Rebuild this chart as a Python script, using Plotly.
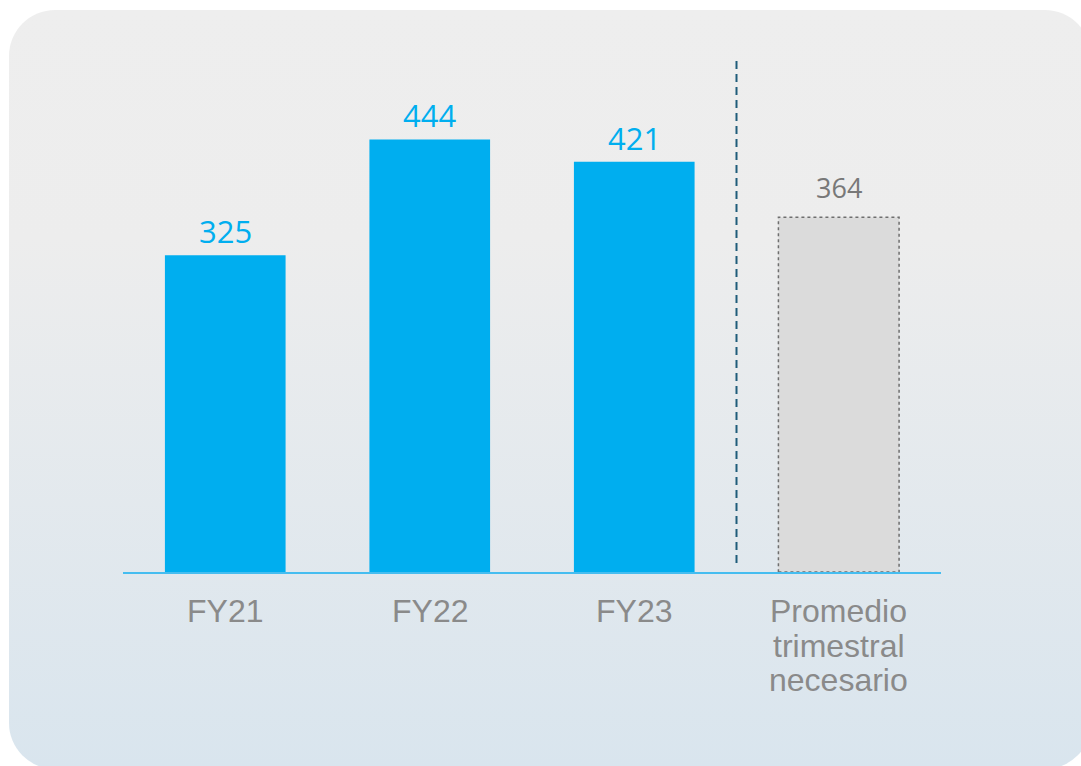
import base64
import plotly.graph_objects as go

# ---- data -------------------------------------------------------------
categories = ["FY21", "FY22", "FY23", "Promedio trimestral necesario"]
category_lines = [["FY21"], ["FY22"], ["FY23"], ["Promedio", "trimestral", "necesario"]]
values = [325, 444, 421, 364]
value_labels = ["325", "444", "421", "364"]
is_target = [False, False, False, True]

# ---- geometry / style -------------------------------------------------
W, H = 1081, 766
M = dict(l=123, r=140, t=40, b=194)
PLOT_W = W - M["l"] - M["r"]
PLOT_H = H - M["t"] - M["b"]
BARGAP = 0.41
Y_MAX = 546

BLUE = "#00AEEF"
TARGET_FILL = "#DBDBDB"
TARGET_EDGE = "#6E6E6E"
AXIS_BLUE = "#45BDF0"
SEP_COLOR = "#1F5C7A"
CAT_GREY = "#8A8A8A"
VAL_GREY = "#787878"

x = list(range(len(categories)))
colors = [TARGET_FILL if t else BLUE for t in is_target]


def px_to_paper_x(px):
    return (px - M["l"]) / PLOT_W


def px_to_paper_y(py):
    return (H - M["b"] - py) / PLOT_H


# rounded card with a soft grey-to-blue vertical gradient
card = dict(x0=9, y0=10, x1=1091, y1=769, r=46)
cw, ch = card["x1"] - card["x0"], card["y1"] - card["y0"]
svg = (
    f'<svg xmlns="http://www.w3.org/2000/svg" width="{cw}" height="{ch}" '
    f'viewBox="0 0 {cw} {ch}">'
    '<defs><linearGradient id="g" x1="0" y1="0" x2="0" y2="1">'
    '<stop offset="0" stop-color="#EEEEEE"/>'
    '<stop offset="0.3" stop-color="#EDEDED"/>'
    '<stop offset="1" stop-color="#D9E5EE"/>'
    '</linearGradient></defs>'
    f'<rect x="0" y="0" width="{cw}" height="{ch}" rx="{card["r"]}" ry="{card["r"]}" fill="url(#g)"/>'
    '</svg>'
)
svg_uri = "data:image/svg+xml;base64," + base64.b64encode(svg.encode()).decode()

fig = go.Figure()

fig.add_trace(go.Bar(
    x=x,
    y=values,
    marker=dict(color=colors, line=dict(width=0)),
    hoverinfo="skip",
    showlegend=False,
))

annotations = []
# value labels above the bars
for i, (v, lab, t) in enumerate(zip(values, value_labels, is_target)):
    annotations.append(dict(
        x=i, y=v, xref="x", yref="y",
        text=lab, showarrow=False,
        xanchor="center", yanchor="bottom",
        yshift=9 if t else 1,
        font=dict(family="Open Sans, sans-serif", size=27 if t else 31,
                  color=VAL_GREY if t else BLUE),
    ))
# category labels below the axis, one annotation per line
for i, lines in enumerate(category_lines):
    for j, line in enumerate(lines):
        annotations.append(dict(
            x=i, y=0, xref="x", yref="paper",
            text=line, showarrow=False,
            xanchor="center", yanchor="top",
            yshift=-(19 + 34.5 * j),
            font=dict(family="Liberation Sans, Arial, sans-serif", size=32,
                      color=CAT_GREY),
        ))

shapes = []
# dotted outline around the target bar
half_w = (1 - BARGAP) / 2
for i, (v, t) in enumerate(zip(values, is_target)):
    if t:
        shapes.append(dict(
            type="rect", xref="x", yref="y",
            x0=i - half_w, x1=i + half_w, y0=0, y1=v,
            line=dict(color=TARGET_EDGE, width=1.5, dash="dot"),
            fillcolor="rgba(0,0,0,0)", layer="above",
        ))
# dashed separator between actual years and the target
first_target = is_target.index(True)
shapes.append(dict(
    type="line", xref="x", yref="paper",
    x0=first_target - 0.5, x1=first_target - 0.5,
    y0=px_to_paper_y(563), y1=px_to_paper_y(57),
    line=dict(color=SEP_COLOR, width=2, dash="8px,5px"),
))

fig.update_layout(
    width=W, height=H,
    margin=dict(l=M["l"], r=M["r"], t=M["t"], b=M["b"], pad=0),
    paper_bgcolor="white",
    plot_bgcolor="rgba(0,0,0,0)",
    bargap=BARGAP,
    xaxis=dict(
        range=[-0.5, len(categories) - 0.5],
        showgrid=False, zeroline=False,
        showline=True, linecolor=AXIS_BLUE, linewidth=2,
        showticklabels=False, ticks="",
        fixedrange=True,
    ),
    yaxis=dict(
        range=[0, Y_MAX],
        showgrid=False, zeroline=False, showline=False,
        showticklabels=False, ticks="",
        fixedrange=True,
    ),
    images=[dict(
        source=svg_uri,
        xref="paper", yref="paper",
        x=px_to_paper_x(card["x0"]), y=px_to_paper_y(card["y0"]),
        sizex=px_to_paper_x(card["x1"]) - px_to_paper_x(card["x0"]),
        sizey=px_to_paper_y(card["y0"]) - px_to_paper_y(card["y1"]),
        xanchor="left", yanchor="top",
        sizing="stretch", layer="below",
    )],
    annotations=annotations,
    shapes=shapes,
    showlegend=False,
)

fig.write_html("out.html", config=dict(displayModeBar=False))
